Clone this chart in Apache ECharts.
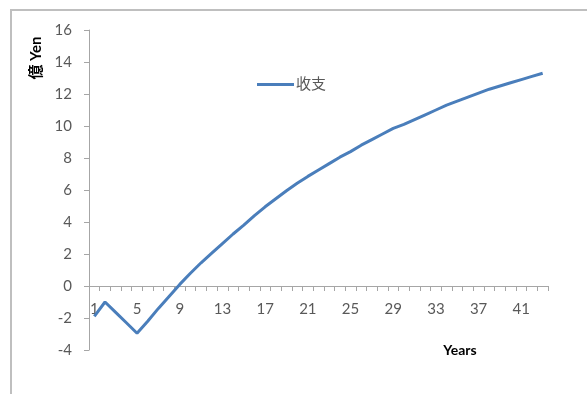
<!DOCTYPE html>
<html><head><meta charset="utf-8">
<script src="https://cdn.jsdelivr.net/npm/echarts@6/dist/echarts.min.js"></script>
<style>html,body{margin:0;padding:0;background:#fff}#c{width:587px;height:394px}</style>
</head><body><div id="c"></div>
<script>
const years = Array.from({length: 43}, (_, i) => String(i + 1));
const seriesName = '收支';
const balance = [-1.9, -1.0, -1.65, -2.3, -2.95, -2.2, -1.4, -0.65, 0.1, 0.8,
  1.45, 2.05, 2.65, 3.25, 3.8, 4.4, 4.95, 5.45, 5.95, 6.42,
  6.85, 7.25, 7.65, 8.05, 8.4, 8.8, 9.15, 9.5, 9.85, 10.1,
  10.4, 10.7, 11.0, 11.3, 11.55, 11.8, 12.05, 12.3, 12.5, 12.7,
  12.9, 13.1, 13.3];
const yTicks = { min: -4, max: 16, interval: 2 };
const yName = '億 Yen';
const xName = 'Years';

const FONT = 'Lato, "Noto Sans CJK JP", sans-serif';
const chart = echarts.init(document.getElementById('c'), null, {renderer: 'canvas'});
const gridTop = 30, gridBottom = 44, gridH = 394 - gridTop - gridBottom;
const zeroOffset = -gridH * (0 - yTicks.min) / (yTicks.max - yTicks.min);
chart.setOption({
  animation: false,
  backgroundColor: '#fff',
  grid: {left: 89, right: 39, top: gridTop, bottom: gridBottom, containLabel: false},
  legend: {
    left: 252, top: 72,
    data: [{name: seriesName, icon: 'rect'}],
    itemWidth: 37, itemHeight: 3, itemGap: 2,
    textStyle: {fontFamily: FONT, fontSize: 15, color: '#595959', padding: [0,0,0,-3]}
  },
  xAxis: {
    type: 'category', data: years, boundaryGap: true, offset: zeroOffset,
    axisLine: {onZero: false, lineStyle: {color: '#a6a6a6', width: 1}},
    axisTick: {show: true, interval: 0, length: 5, lineStyle: {color: '#a6a6a6'}},
    axisLabel: {interval: 3, margin: 16, fontFamily: FONT, fontSize: 15, color: '#595959'},
    splitLine: {show: false}
  },
  yAxis: {
    type: 'value', min: yTicks.min, max: yTicks.max, interval: yTicks.interval,
    axisLine: {show: true, lineStyle: {color: '#a6a6a6', width: 1}},
    axisTick: {show: true, length: 5, lineStyle: {color: '#a6a6a6'}},
    axisLabel: {margin: 17, fontFamily: FONT, fontSize: 15, color: '#595959'},
    splitLine: {show: false}
  },
  series: [{
    name: seriesName, type: 'line', data: balance, symbol: 'none',
    lineStyle: {color: '#4a7ebb', width: 3},
    itemStyle: {color: '#4a7ebb'}
  }],
  graphic: [
    {type: 'rect', shape: {x: 11, y: 10, width: 700, height: 500},
     style: {fill: 'none', stroke: '#bfbfbf', lineWidth: 2}, silent: true},
    {type: 'text', x: 36, y: 58, rotation: Math.PI / 2,
     style: {text: yName, font: 'bold 15px ' + FONT, fill: '#000', align: 'center', verticalAlign: 'middle'}},
    {type: 'text', x: 460, y: 350,
     style: {text: xName, font: 'bold 14px ' + FONT, fill: '#000', align: 'center', verticalAlign: 'middle'}}
  ]
});
</script></body></html>
